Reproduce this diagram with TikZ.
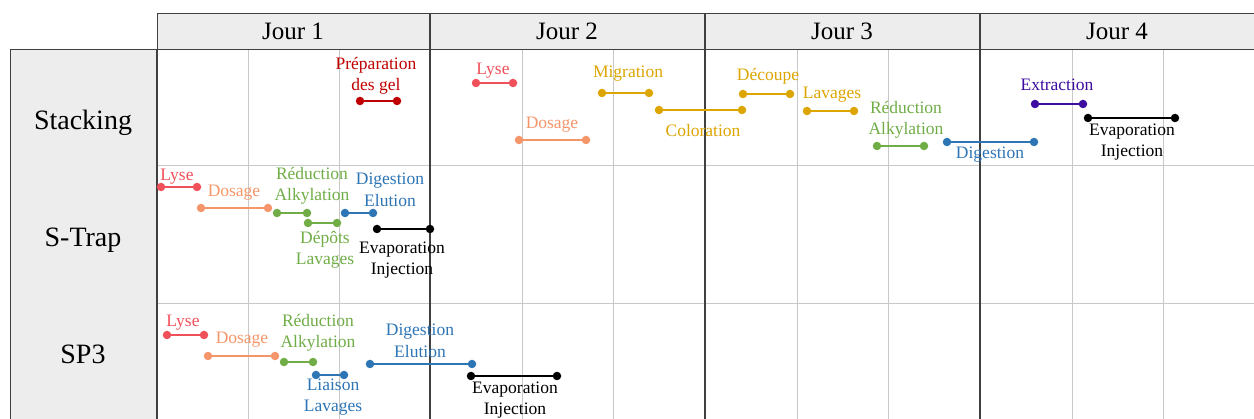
\documentclass[tikz,border=0pt]{standalone}
\usepackage{fontspec}
\setmainfont{Liberation Serif}
\definecolor{cPrep}{HTML}{C00000}
\definecolor{cLyse}{HTML}{F0505A}
\definecolor{cDos}{HTML}{F4956A}
\definecolor{cGold}{HTML}{DCA500}
\definecolor{cGreen}{HTML}{70AD47}
\definecolor{cBlue}{HTML}{2E75B6}
\definecolor{cPurp}{HTML}{3D0CA0}
\definecolor{cHead}{HTML}{EDEDED}
\definecolor{cDark}{HTML}{404040}
\definecolor{cGrid}{HTML}{C8C8C8}
\newcommand\tsk[8]{%
  \node[tdot,fill=#2] (#1a) at (#3,#5) {};
  \node[tdot,fill=#2] (#1b) at (#4,#5) {};
  \draw[tline,draw=#2] (#1a) -- (#1b);
  \node[lbl,text=#2] (#1l) at (#7,#8) {#6};
}
\begin{document}
\begin{tikzpicture}[x=1pt,y=-1pt,
  tdot/.style={circle,inner sep=0pt,minimum size=8.5pt,draw=none},
  tline/.style={line width=1.3pt},
  lbl/.style={font=\fontsize{17.5}{21.5}\selectfont,align=center,inner sep=0pt},
  headtxt/.style={font=\fontsize{25}{30}\selectfont,inner sep=0pt},
  rowtxt/.style={font=\fontsize{28}{33}\selectfont,inner sep=0pt},
  gridline/.style={draw=cGrid,line width=0.8pt},
  darkline/.style={draw=cDark,line width=1.1pt}]
\useasboundingbox (0,0) rectangle (1254,419);
\clip (0,0) rectangle (1254,419);
% grid
\foreach \x in {248,339,522,613,797,888,1072,1163}
  \draw[gridline] (\x,49) -- (\x,425);
\foreach \y in {165,303}
  \draw[gridline] (157,\y) -- (1260,\y);
\foreach \x in {430,705,980}
  \draw[darkline] (\x,13) -- (\x,425);
% header and left column
\node[draw=cDark,line width=1.1pt,fill=cHead,minimum width=1103pt,minimum height=36pt,anchor=north west,inner sep=0pt] (head) at (157,13) {};
\foreach \x in {430,705,980}
  \draw[darkline] (\x,13) -- (\x,49);
\node[headtxt] (j1) at (293,31) {Jour 1};
\node[headtxt] (j2) at (567,31) {Jour 2};
\node[headtxt] (j3) at (842,31) {Jour 3};
\node[headtxt] (j4) at (1117,31) {Jour 4};
\node[draw=cDark,line width=1.1pt,fill=cHead,minimum width=147pt,minimum height=380pt,anchor=north west,inner sep=0pt] (lcol) at (10,49) {};
\draw[darkline] (157,49) -- (157,425);
\node[rowtxt] (rStack) at (83,123) {Stacking};
\node[rowtxt] (rStrap) at (83,240) {S-Trap};
\node[rowtxt] (rSp) at (83,354) {SP3};
% Stacking
\tsk{prep}{cPrep}{360}{397}{101}{Préparation\\des gel}{376}{76}
\tsk{sLyse}{cLyse}{476}{513}{83}{Lyse}{493}{71}
\tsk{sDos}{cDos}{519}{586}{140}{Dosage}{552}{125}
\tsk{mig}{cGold}{602}{649}{93}{Migration}{628}{74}
\tsk{col}{cGold}{659}{742}{110}{Coloration}{703}{131}
\tsk{dec}{cGold}{743}{790}{94}{Découpe}{768}{76}
\tsk{lav}{cGold}{807}{854}{111}{Lavages}{832}{95}
\tsk{sRed}{cGreen}{877}{924}{146}{Réduction\\Alkylation}{906}{120}
\tsk{sDig}{cBlue}{947}{1034}{142}{Digestion}{990}{155}
\tsk{ext}{cPurp}{1035}{1083}{104}{Extraction}{1057}{85}
\tsk{sEva}{black}{1088}{1175}{118}{Evaporation\\Injection}{1132}{142}
% S-Trap
\tsk{tLyse}{cLyse}{161}{197}{187}{Lyse}{177}{177}
\tsk{tDos}{cDos}{201}{268}{208}{Dosage}{234}{193}
\tsk{tRed}{cGreen}{277}{307}{213}{Réduction\\Alkylation}{312}{186}
\tsk{tDep}{cGreen}{308}{337}{223}{Dépôts\\Lavages}{325}{250}
\tsk{tDig}{cBlue}{345}{373}{213}{Digestion\\Elution}{390}{190}
\tsk{tEva}{black}{377}{430}{229}{Evaporation\\Injection}{402}{260}
% SP3
\tsk{pLyse}{cLyse}{167}{204}{335}{Lyse}{183}{323}
\tsk{pDos}{cDos}{208}{275}{356}{Dosage}{242}{340}
\tsk{pRed}{cGreen}{284}{313}{362}{Réduction\\Alkylation}{318}{333}
\tsk{pLia}{cBlue}{316}{344}{375}{Liaison\\Lavages}{333}{397}
\tsk{pDig}{cBlue}{370}{472}{364}{Digestion\\Elution}{420}{341}
\tsk{pEva}{black}{471}{557}{376}{Evaporation\\Injection}{515}{400}
\end{tikzpicture}
\end{document}
